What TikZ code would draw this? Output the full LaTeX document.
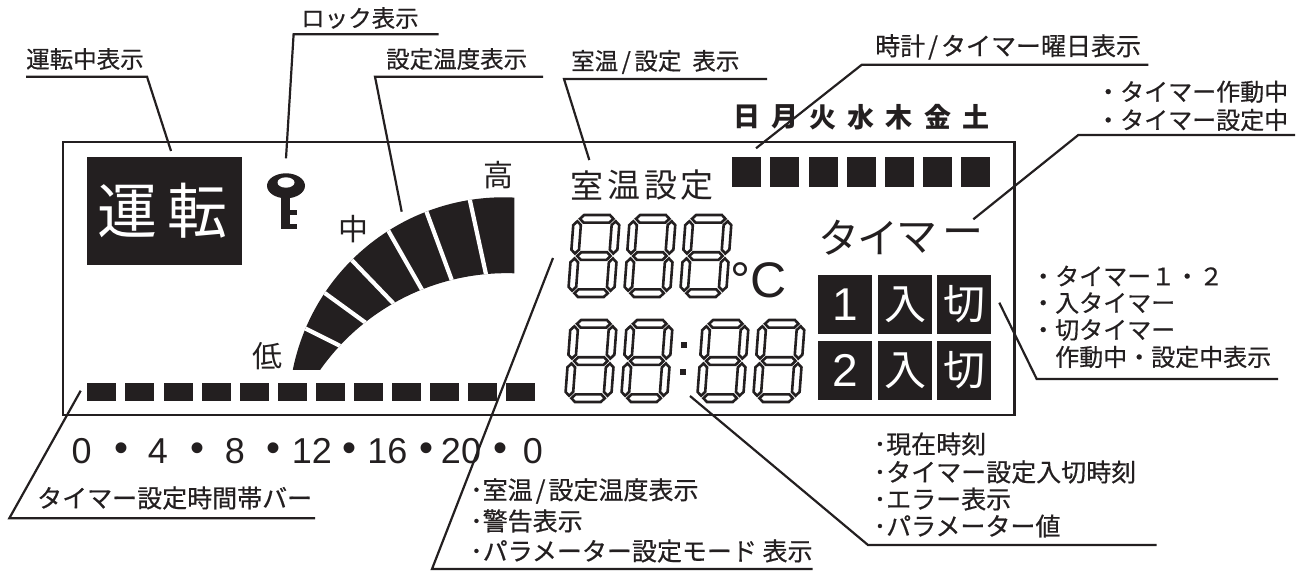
\documentclass[tikz,border=0pt]{standalone}
\usepackage{fontspec}
\newfontfamily\jp{Noto Sans CJK JP}
\newfontfamily\jpm[FakeBold=0.5]{Noto Sans CJK JP}
\newfontfamily\lat{Liberation Sans}
\newcommand\myfs[1]{\fontsize{#1pt}{#1pt}\selectfont}
\definecolor{ink}{HTML}{231F20}
\newcommand\hseg[1]{\draw[seg] (6.3,#1) -- (10.1,{#1-3.8}) -- (35.9,{#1-3.8}) -- (39.7,#1) -- (35.9,{#1+3.8}) -- (10.1,{#1+3.8}) -- cycle;}
\newcommand\vseg[3]{\draw[seg] (#1,#2) -- ({#1+3.8},{#2+3.8}) -- ({#1+3.8},{#3-3.8}) -- (#1,#3) -- ({#1-3.8},{#3-3.8}) -- ({#1-3.8},{#2+3.8}) -- cycle;}
\newcommand\sevdigit[2]{\begin{scope}[shift={(#1,#2)},xslant=0.075]
\hseg{3.8}\hseg{41}\hseg{78.2}
\vseg{3.8}{6.3}{38.5}\vseg{42.2}{6.3}{38.5}\vseg{3.8}{43.5}{75.7}\vseg{42.2}{43.5}{75.7}
\end{scope}}
\begin{document}
\begin{tikzpicture}[x=1pt,y=-1pt,
  lbl/.style={inner sep=0pt, anchor=west, text=ink, font=\jpm\myfs{23.5}},
  lblb/.style={inner sep=0pt, anchor=west, text=ink, font=\jpm\myfs{25}},
  lead/.style={draw=ink, line width=2.2pt},
  seg/.style={draw=ink, fill=white, line width=2.6pt},
  tbox/.style={fill=ink, inner sep=0pt, minimum width=53.4pt, minimum height=59.5pt, text=white},
  tick/.style={inner sep=0pt, anchor=base, text=ink, font=\lat\myfs{36}},
  tdot/.style={inner sep=0pt, anchor=base, text=ink, font=\lat\myfs{40}},
  big/.style={inner sep=0pt, text=ink, font=\jp\myfs{41}},
  mid/.style={inner sep=0pt, text=ink, font=\jp\myfs{33}},
  gl/.style={inner sep=0pt, text=ink, font=\jp\myfs{30}},
  day/.style={inner sep=0pt, text=ink, font=\jp\bfseries\myfs{27}}]
\useasboundingbox (0,0) rectangle (1298,572);

% LCD frame
\draw[ink, line width=2.4pt] (62.7,142.3) rectangle (1014.3,415);

% run box
\node[fill=ink, inner sep=0pt, minimum width=154.4pt, minimum height=107.7pt] (runbox) at (164.5,211.15) {};
\node[inner sep=0pt, text=white, font=\jp\myfs{60}] (run1) at (127,211) {運};
\node[inner sep=0pt, text=white, font=\jp\myfs{60}] (run2) at (197.5,211) {転};

% key
\fill[ink] (286,185.8) ellipse [x radius=19, y radius=12.5];
\fill[white] (286,182.5) ellipse [x radius=8.5, y radius=5.2];
\fill[ink] (280.7,195) rectangle (290.2,229.3);
\fill[ink] (290,209.8) rectangle (296.7,215.2);
\fill[ink] (290,223.8) rectangle (296.7,229.3);
\coordinate (key) at (286,158.3);

% gauge
\fill[ink] (292.8,369.8) arc[start angle=-168.6, end angle=-87.1, radius=215] -- (514.3,273.3) arc[start angle=-88.1, end angle=-144.8, radius=228.3] -- cycle;
\begin{scope}
\clip (292.8,369.8) arc[start angle=-168.6, end angle=-87.1, radius=215] -- (514.3,273.3) arc[start angle=-88.1, end angle=-144.8, radius=228.3] -- cycle;
\foreach \ax/\ay/\bx/\by in {305/328.3/338.3/345, 324.3/292.7/365/322.3, 351.7/260/393.3/303.3, 388.3/230.7/421.7/289.3, 426.7/212.3/451.7/280, 470/200.7/486/274.3}
  \draw[white, line width=4.2pt, shorten <=-12pt, shorten >=-12pt] (\ax,\ay) -- (\bx,\by);
\end{scope}
\node[gl] (gHigh) at (498,175) {高};
\node[gl] (gMid) at (353,229) {中};
\node[gl] (gLow) at (267,356) {低};

% bottom time bar
\foreach \i in {0,...,11} \fill[ink] ({87.3+38.1*\i},383.3) rectangle +(29,17.4);
% day squares and letters
\foreach \i in {0,...,6} \fill[ink] ({732.3+38.1*\i},157.3) rectangle +(29,29.4);
\foreach \c [count=\k from 0] in {日,月,火,水,木,金,土}
  \node[day] (day\k) at ({747+38.1*\k},117) {\c};

% room / set
\foreach \c/\x [count=\k] in {室/587,温/624,設/661,定/697}
  \node[mid] (rs\k) at (\x,185) {\c};

% seven segment digits
\sevdigit{574}{215}\sevdigit{630}{215}\sevdigit{686}{215}
\node[inner sep=0pt, anchor=west, text=ink, font=\lat\myfs{50}] (degc) at (730,280) {°C};
\sevdigit{571}{320}\sevdigit{627}{320}\sevdigit{703}{320}\sevdigit{759}{320}
\fill[ink] (680.5,342) rectangle +(6,6);
\fill[ink] (679.7,368.7) rectangle +(6,6);

% timer word
\foreach \c/\x [count=\k] in {タ/839,イ/877.5,マ/916.5,ー/963}
  \node[big] (tw\k) at (\x,238) {\c};

% timer boxes
\node[tbox, font=\lat\myfs{46}] (b11) at (845,304.5) {1};
\node[tbox, font=\jp\myfs{42}] (b12) at (905,304.5) {入};
\node[tbox, font=\jp\myfs{42}] (b13) at (964,304.5) {切};
\node[tbox, font=\lat\myfs{46}] (b21) at (845,370.7) {2};
\node[tbox, font=\jp\myfs{42}] (b22) at (905,370.7) {入};
\node[tbox, font=\jp\myfs{42}] (b23) at (964,370.7) {切};

% tick labels
\foreach \x/\t in {81.7/0,158/4,235/8,312/12,387.5/16,461/20,533/0}
  \node[tick] at (\x,463) {\t};
\foreach \x in {121.7,197.7,273.3,349.3,426,500}
  \node[tdot] at (\x,461) {•};

% ---- labels and leaders ----
\node[lbl] (lRun) at (26,59) {運転中表示};
\coordinate (uRunA) at (26,76.7); \coordinate (uRunB) at (147,76.7); \coordinate (pRun) at (171,151);
\draw[lead] (uRunA) -- (uRunB) -- (pRun);

\node[lbl] (lLock) at (301,18) {ロック表示};
\coordinate (uLockA) at (438.6,34.3); \coordinate (uLockB) at (293.6,34.3);
\draw[lead] (uLockA) -- (uLockB) -- (key);

\node[lbl] (lSet) at (386,59) {設定温度表示};
\coordinate (uSetA) at (543,76.7); \coordinate (uSetB) at (375,76.7); \coordinate (pSet) at (401.7,211.7);
\draw[lead] (uSetA) -- (uSetB) -- (pSet);

\node[lbl] (lRoom) at (571,62) {室温\hspace{3.5pt}/\hspace{3.5pt}設定\hspace{11pt}表示};
\coordinate (uRoomA) at (767,79); \coordinate (uRoomB) at (564,79); \coordinate (pRoom) at (589.3,160);
\draw[lead] (uRoomA) -- (uRoomB) -- (pRoom);

\node[lbl, font=\jpm\myfs{25}] (lClock) at (875,47) {時計\hspace{3pt}/\hspace{3pt}タイマー曜日表示};
\coordinate (uClockA) at (1148.3,64.8); \coordinate (uClockB) at (861.7,64.8); \coordinate (pClock) at (756,148.3);
\draw[lead] (uClockA) -- (uClockB) -- (pClock);

\node[lbl, font=\jpm\myfs{24}] (lTw1) at (1096,91.7) {・タイマー作動中};
\node[lbl, font=\jpm\myfs{24}] (lTw2) at (1096,120) {・タイマー設定中};
\coordinate (uTwA) at (1295,135); \coordinate (uTwB) at (1078.3,135); \coordinate (pTw) at (973.3,219.3);
\draw[lead] (uTwA) -- (uTwB) -- (pTw);

\node[lbl, font=\jpm\myfs{24}] (lTb1) at (1031,276) {・タイマー１・２};
\node[lbl, font=\jpm\myfs{24}] (lTb2) at (1031,303) {・入タイマー};
\node[lbl, font=\jpm\myfs{24}] (lTb3) at (1031,330) {・切タイマー};
\node[lbl, font=\jpm\myfs{24}] (lTb4) at (1031,357) {　作動中・設定中表示};
\coordinate (uTbA) at (1278,379); \coordinate (uTbB) at (1036.7,379); \coordinate (pTb) at (999.3,302.7);
\draw[lead] (uTbA) -- (uTbB) -- (pTb);

\node[lblb] (lClk1) at (873.5,444) {･現在時刻};
\node[lblb] (lClk2) at (873.5,472) {･タイマー設定入切時刻};
\node[lblb] (lClk3) at (873.5,499) {･エラー表示};
\node[lblb] (lClk4) at (873.5,526) {･パラメーター値};
\coordinate (uClkA) at (1156.7,545); \coordinate (uClkB) at (868,545); \coordinate (pClk) at (690,396);
\draw[lead] (uClkA) -- (uClkB) -- (pClk);

\node[lblb] (lTmp1) at (470,491) {･室温\hspace{3pt}/\hspace{3pt}設定温度表示};
\node[lblb] (lTmp2) at (470,521) {･警告表示};
\node[lblb] (lTmp3) at (470,551) {･パラメーター設定モード 表示};
\coordinate (uTmpA) at (812.5,569); \coordinate (uTmpB) at (432,569); \coordinate (pTmp) at (553,258);
\draw[lead] (uTmpA) -- (uTmpB) -- (pTmp);

\node[lblb] (lBar) at (37,498) {タイマー設定時間帯バー};
\coordinate (uBarA) at (315,518.3); \coordinate (uBarB) at (9.3,518.3); \coordinate (pBar) at (80.7,390.7);
\draw[lead] (uBarA) -- (uBarB) -- (pBar);
\end{tikzpicture}
\end{document}
